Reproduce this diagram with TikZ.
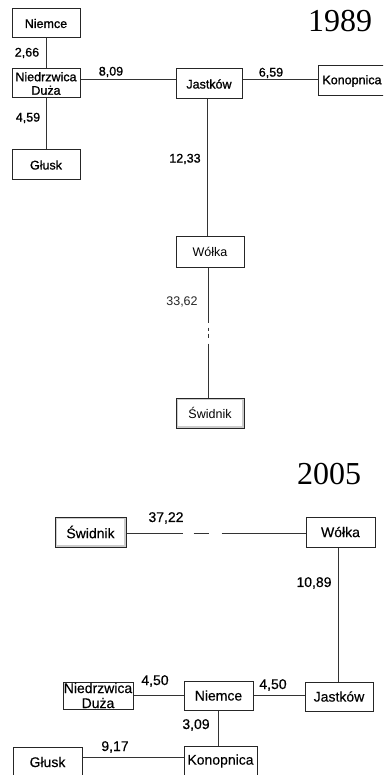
\documentclass[tikz,border=0pt]{standalone}
\usepackage{fontspec}
\setmainfont{Liberation Sans}
\newfontfamily\heavyfont[FakeBold=1.1]{Liberation Sans}
\newfontfamily\midfont[FakeBold=0.3]{Liberation Sans}
\newfontfamily\yearfont{Liberation Serif}
\begin{document}
\begin{tikzpicture}[x=1pt,y=-1pt,
  box/.style={draw=black!85, line width=1pt, fill=white, rectangle, inner sep=0pt, align=center, text=black},
  boxA/.style={box, font=\heavyfont\fontsize{12.5}{13.5}\selectfont},
  boxAr/.style={box, font=\fontsize{12.5}{13.5}\selectfont},
  boxB/.style={box, font=\midfont\fontsize{14}{15}\selectfont},
  dbox/.style={path picture={\draw[gray!40, line width=4pt] (path picture bounding box.north west) rectangle (path picture bounding box.south east);}},
  conn/.style={draw=black!80, line width=1pt},
  lblA/.style={inner sep=0pt, text=black, font=\heavyfont\fontsize{12.5}{13.5}\selectfont},
  lblAr/.style={inner sep=0pt, text=black!85, font=\fontsize{12.5}{13.5}\selectfont},
  lblB/.style={inner sep=0pt, text=black, font=\midfont\fontsize{14}{15}\selectfont},
  year/.style={inner sep=0pt, font=\yearfont\fontsize{32}{34}\selectfont}]
\useasboundingbox (0,0) rectangle (383,775);
\clip (0,0) rectangle (383,775);

% ---------- 1989 ----------
\node[year] (y1) at (340,21) {1989};
\node[boxA, minimum width=68pt, minimum height=29pt] (n1) at (46,23.5) {Niemce};
\node[boxA, minimum width=68pt, minimum height=29pt] (nd1) at (46,83.5) {Niedrzwica\\Duża};
\node[boxA, minimum width=68pt, minimum height=30pt] (g1) at (46,165) {Głusk};
\node[boxA, minimum width=66pt, minimum height=30pt] (j1) at (209,84) {Jastków};
\node[boxA, minimum width=68pt, minimum height=30pt] (k1) at (352,81) {Konopnica};
\node[boxAr, minimum width=68pt, minimum height=30pt] (w1) at (210,252) {Wółka};
\node[boxAr, dbox, minimum width=68pt, minimum height=30pt] (s1) at (210,413) {Świdnik};

\draw[conn] (n1.south) -- (nd1.north);
\draw[conn] (nd1.south) -- (g1.north);
\draw[conn] (nd1.east |- 0,80) -- (j1.west |- 0,80);
\draw[conn] (j1.east |- 0,80) -- (k1.west |- 0,80);
\draw[conn] (j1.south -| 207.5,0) -- (w1.north -| 207.5,0);
\draw[conn, dash pattern=on 55pt off 5pt on 3pt off 3pt on 4pt off 6pt on 80pt] (w1.south -| 208,0) -- (s1.north -| 208,0);

\node[lblA] (l266) at (27,53) {2,66};
\node[lblA] (l809) at (111,72) {8,09};
\node[lblA] (l659) at (271,73) {6,59};
\node[lblA] (l459) at (28,118) {4,59};
\node[lblA] (l1233) at (185,159) {12,33};
\node[lblAr] (l3362) at (182,302) {33,62};

% ---------- 2005 ----------
\node[year] (y2) at (329,474) {2005};
\node[boxB, dbox, minimum width=71pt, minimum height=30pt] (s2) at (90.5,532) {Świdnik};
\node[boxB, minimum width=69pt, minimum height=30pt] (w2) at (340.5,532) {Wółka};
\node[boxB, minimum width=70pt, minimum height=27pt] (nd2) at (98,695.5) {Niedrzwica\\Duża};
\node[boxB, minimum width=69pt, minimum height=29pt] (n2) at (218.5,695.5) {Niemce};
\node[boxB, minimum width=68pt, minimum height=29pt] (j2) at (339,696.5) {Jastków};
\node[boxB, minimum width=73pt, minimum height=30pt] (k2) at (220.5,761) {Konopnica};
\node[boxB, minimum width=69pt, minimum height=30pt] (g2) at (47.5,762) {Głusk};

\draw[conn, dash pattern=on 56pt off 11pt on 15pt off 13pt on 100pt] (s2.east |- 0,533) -- (w2.west |- 0,533);
\draw[conn] (w2.south -| 338,0) -- (j2.north -| 338,0);
\draw[conn] (nd2.east |- 0,695) -- (n2.west |- 0,695);
\draw[conn] (n2.east |- 0,695) -- (j2.west |- 0,695);
\draw[conn] (n2.south) -- (k2.north -| n2.south);
\draw[conn] (g2.east |- 0,757) -- (k2.west |- 0,757);

\node[lblB] (l3722) at (166,518) {37,22};
\node[lblB] (l1089) at (314,583) {10,89};
\node[lblB] (l450a) at (155,681) {4,50};
\node[lblB] (l450b) at (273,685) {4,50};
\node[lblB] (l309) at (196,725) {3,09};
\node[lblB] (l917) at (115,747) {9,17};
\end{tikzpicture}
\end{document}
